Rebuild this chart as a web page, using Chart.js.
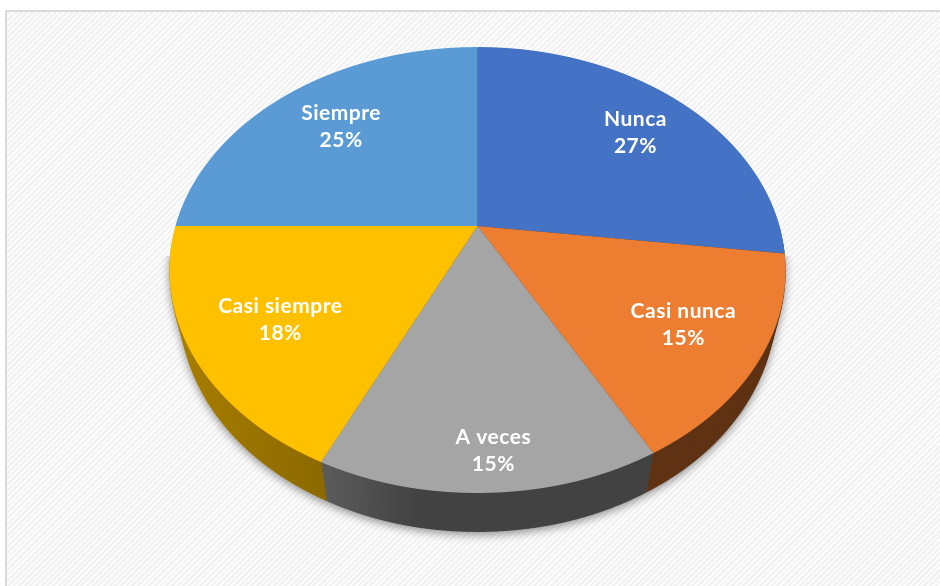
<!DOCTYPE html>
<html>
<head>
<meta charset="utf-8">
<script src="https://cdn.jsdelivr.net/npm/chart.js@4.4.0/dist/chart.umd.min.js"></script>
<style>
  html, body { margin: 0; padding: 0; background: #fff; overflow: hidden; }
  #box {
    position: absolute; left: 5px; top: 10px; width: 960px; height: 600px;
    box-sizing: border-box; border: 2px solid #dadada;
    background: repeating-linear-gradient(-45deg, #fcfcfc 0 2px, #f1f1f1 2px 4px);
  }
  #wrap { position: absolute; left: 0; top: 0; width: 940px; height: 586px; }
</style>
</head>
<body>
<div id="box"></div>
<div id="wrap"><canvas id="pie" width="940" height="586"></canvas></div>
<script>
/* data */
const categories = ['Nunca', 'Casi nunca', 'A veces', 'Casi siempre', 'Siempre'];
const percentages = [27, 15, 15, 18, 25];
const sliceColors = ['#4472C4', '#ED7D31', '#A5A5A5', '#FFC000', '#5B9BD5'];

/* tilted pie: the library's arcs are drawn row by row through a perspective
   mapping, then stacked downward (darkened) to make the side wall */
const tilt3d = {
  id: 'tilt3d',
  beforeDatasetsDraw(chart, args, o) {
    const arcs = chart.getDatasetMeta(0).data;
    if (!arcs.length) return false;
    const W = chart.width, H = chart.height;
    const a0 = arcs[0], R = a0.outerRadius;

    const top = document.createElement('canvas');
    top.width = W; top.height = H;
    const tc = top.getContext('2d');
    const y1 = Math.floor(o.cy - o.ry / (1 + o.k)) - 1;
    const y2 = Math.ceil(o.cy + o.ry / (1 - o.k)) + 1;
    for (let y = y1; y <= y2; y++) {
      const d = y + 0.5 - o.cy;
      const v = d / (o.ry + o.k * d);
      const w = 1 - o.k * v;
      const sx = o.rx / w / R, sy = o.ry / (w * w) / R;
      tc.save();
      tc.beginPath(); tc.rect(0, y, W, 1); tc.clip();
      tc.setTransform(sx, 0, 0, sy, o.cx - sx * a0.x, y + 0.5 - sy * (a0.y + v * R));
      arcs.forEach(a => a.draw(tc));
      tc.restore();
    }

    // side wall: layers shifted down and pulled slightly toward the middle
    const side = document.createElement('canvas');
    side.width = W; side.height = H;
    const sc = side.getContext('2d');
    for (let i = o.depth; i >= 1; i--) {
      const s = 1 - o.squeeze * i / o.depth;
      sc.drawImage(top, 0, 0, W, H, o.cx * (1 - s), i, W * s, H);
    }
    sc.globalCompositeOperation = 'source-atop';
    const g = sc.createLinearGradient(o.cx - o.rx, 0, o.cx + o.rx, 0);
    g.addColorStop(0, 'rgba(0,0,0,0.34)');
    g.addColorStop(0.26, 'rgba(0,0,0,0.46)');
    g.addColorStop(0.4, 'rgba(0,0,0,0.6)');
    g.addColorStop(1, 'rgba(0,0,0,0.6)');
    sc.fillStyle = g;
    sc.fillRect(0, 0, W, H);

    const ctx = chart.ctx;
    const cut = o.cy + 30;
    ctx.save();
    ctx.beginPath(); ctx.rect(0, cut, W, H); ctx.clip();
    ctx.shadowColor = 'rgba(0,0,0,0.4)';
    ctx.shadowBlur = 9;
    ctx.shadowOffsetY = 3;
    ctx.drawImage(side, 0, 0);
    ctx.restore();
    ctx.save();
    ctx.beginPath(); ctx.rect(0, 0, W, cut); ctx.clip();
    ctx.drawImage(side, 0, 0);
    ctx.restore();
    ctx.drawImage(top, 0, 0);
    return false;
  },
  afterDraw(chart, args, o) {
    const arcs = chart.getDatasetMeta(0).data;
    const total = percentages.reduce((s, x) => s + x, 0);
    const ctx = chart.ctx;
    ctx.save();
    ctx.fillStyle = '#fff';
    ctx.font = 'bold 21px Lato, "Open Sans", sans-serif';
    ctx.letterSpacing = '0.5px';
    ctx.textAlign = 'center';
    ctx.textBaseline = 'middle';
    arcs.forEach((a, i) => {
      const mid = (a.startAngle + a.endAngle) / 2;
      const f = o.labelRadius[categories[i]] || o.labelRadius.other;
      const u = f * Math.cos(mid), v = f * Math.sin(mid);
      const w = 1 - o.k * v;
      const x = o.cx + o.rx * u / w + o.labelShift[0];
      const y = o.cy + o.ry * v / w + o.labelShift[1];
      ctx.fillText(categories[i], x, y - 13.5);
      ctx.fillText(Math.round(percentages[i] / total * 100) + '%', x, y + 13.5);
    });
    ctx.restore();
  }
};

new Chart(document.getElementById('pie'), {
  type: 'pie',
  data: {
    labels: categories,
    datasets: [{ data: percentages, backgroundColor: sliceColors, borderWidth: 0 }]
  },
  options: {
    responsive: false,
    animation: false,
    events: [],
    plugins: {
      legend: { display: false },
      tooltip: { enabled: false },
      tilt3d: {
        cx: 477.5, cy: 226, rx: 302, ry: 214.3, k: 0.1973, depth: 39, squeeze: 0.035,
        labelRadius: { other: 0.735, 'A veces': 0.863 },
        labelShift: [6, 2]
      }
    }
  },
  plugins: [tilt3d]
});
</script>
</body>
</html>
